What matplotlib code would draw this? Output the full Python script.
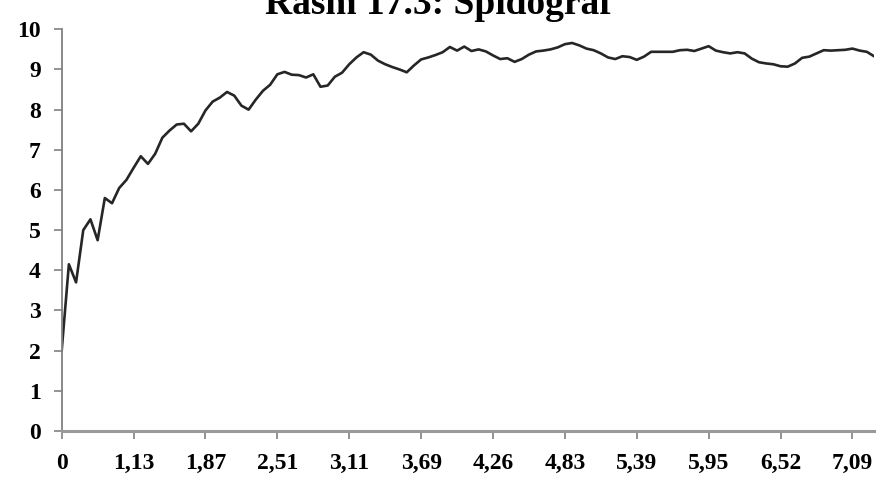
# bibliotecas
import matplotlib.pyplot as plt
import numpy as np

# dados (valores da série, um por categoria)
valores = [2.0, 4.15, 3.7, 5.0, 5.27, 4.75, 5.8, 5.67, 6.05, 6.25,
           6.55, 6.84, 6.65, 6.9, 7.3, 7.48, 7.63, 7.65, 7.46, 7.65,
           7.98, 8.2, 8.3, 8.44, 8.35, 8.1, 8.0, 8.25, 8.47, 8.62,
           8.88, 8.94, 8.87, 8.86, 8.8, 8.88, 8.57, 8.6, 8.82, 8.92,
           9.13, 9.3, 9.43, 9.37, 9.22, 9.13, 9.06, 9.0, 8.93, 9.1,
           9.25, 9.3, 9.36, 9.43, 9.56, 9.47, 9.57, 9.46, 9.5, 9.45,
           9.35, 9.26, 9.28, 9.19, 9.26, 9.37, 9.45, 9.47, 9.5, 9.55,
           9.63, 9.66, 9.6, 9.52, 9.48, 9.4, 9.3, 9.26, 9.33, 9.31,
           9.24, 9.32, 9.44, 9.44, 9.44, 9.44, 9.48, 9.49, 9.46, 9.52,
           9.58, 9.47, 9.43, 9.4, 9.43, 9.4, 9.27, 9.18, 9.15, 9.13,
           9.08, 9.07, 9.15, 9.29, 9.32, 9.4, 9.48, 9.47, 9.48, 9.49,
           9.52, 9.47, 9.44, 9.33]

# rótulos do eixo x (um a cada 10 categorias)
rotulos_x = ['0', '1,13', '1,87', '2,51', '3,11', '3,69', '4,26',
             '4,83', '5,39', '5,95', '6,52', '7,09']
passo = 10

titulo = 'Rasm 17.3: Spidograf'

plt.rcParams['font.family'] = ['Liberation Serif', 'DejaVu Serif']

fig = plt.figure(figsize=(8.8, 4.91), dpi=100)
ax = fig.add_axes([0.0701, 0.1222, 0.9231, 0.8181])

x = np.arange(len(valores))
ax.plot(x, valores, color='#262626', linewidth=1.9)

ax.set_xlim(0, len(valores) - 1)
ax.set_ylim(0, 10)
ax.set_yticks(range(0, 11))
ax.set_xticks(np.arange(len(rotulos_x)) * passo)
ax.set_xticklabels(rotulos_x)

# estilo dos eixos (parecido com o excel)
for lado in ['top', 'right']:
    ax.spines[lado].set_visible(False)
ax.spines['left'].set_color('#808080')
ax.spines['left'].set_linewidth(1.3)
ax.spines['bottom'].set_color('#9a9a9a')
ax.spines['bottom'].set_linewidth(2.2)
ax.tick_params(axis='both', direction='out', length=6, width=1.2,
               color='#808080', labelsize=17)
ax.tick_params(axis='y', pad=9)
ax.tick_params(axis='x', pad=10)
for lbl in ax.get_xticklabels() + ax.get_yticklabels():
    lbl.set_fontweight('bold')

# titulo cortado no topo da imagem
fig.text(0.498, 0.972, titulo, ha='center', va='baseline',
         fontsize=27, fontweight='bold')

fig.savefig('out.png', dpi=100)
